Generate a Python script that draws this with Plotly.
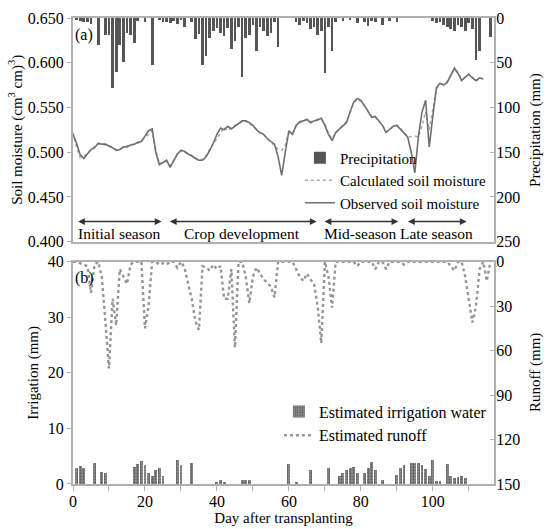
import plotly.graph_objects as go

# ---------------- data ----------------
days = list(range(117))
precipitation = [
    0, 2, 3, 5, 5, 7, 0, 30, 0, 19,
    19, 78, 60, 30, 49, 17, 19, 28, 3, 0,
    4, 0, 53, 0, 2, 5, 4, 6, 3, 7,
    2, 10, 0, 4, 24, 18, 53, 43, 22, 15,
    11, 17, 20, 11, 35, 26, 10, 66, 22, 19,
    8, 37, 10, 15, 20, 17, 5, 32, 0, 0,
    0, 0, 4, 8, 3, 6, 12, 10, 19, 15,
    62, 10, 37, 5, 0, 3, 0, 2, 0, 6,
    0, 4, 9, 3, 5, 0, 8, 0, 3, 0,
    4, 0, 0, 0, 0, 0, 0, 0, 0, 0,
    3, 6, 4, 8, 10, 12, 15, 8, 10, 14,
    6, 12, 47, 37, 0, 0, 21,
]

sm_days = list(range(115))
observed = [
    0.520, 0.510, 0.497, 0.493, 0.498, 0.503, 0.505, 0.510, 0.509, 0.509,
    0.507, 0.505, 0.502, 0.503, 0.506, 0.506, 0.508, 0.509, 0.511, 0.512,
    0.518, 0.524, 0.526, 0.500, 0.486, 0.489, 0.491, 0.483, 0.490, 0.498,
    0.502, 0.501, 0.498, 0.496, 0.493, 0.491, 0.491, 0.495, 0.502, 0.510,
    0.520, 0.527, 0.525, 0.529, 0.526, 0.529, 0.532, 0.535, 0.535, 0.533,
    0.530, 0.525, 0.522, 0.520, 0.515, 0.512, 0.509, 0.495, 0.474, 0.500,
    0.524, 0.520, 0.530, 0.534, 0.535, 0.537, 0.533, 0.535, 0.536, 0.538,
    0.530, 0.520, 0.513, 0.522, 0.526, 0.530, 0.533, 0.545, 0.556, 0.560,
    0.558, 0.552, 0.545, 0.539, 0.540, 0.535, 0.530, 0.522, 0.526, 0.529,
    0.530, 0.526, 0.522, 0.517, 0.500, 0.477, 0.518, 0.545, 0.558, 0.506,
    0.540, 0.572, 0.577, 0.575, 0.578, 0.587, 0.594, 0.588, 0.580, 0.584,
    0.587, 0.583, 0.580, 0.583, 0.582,
]
calculated = [
    0.522, 0.505, 0.494, 0.495, 0.499, 0.503, 0.506, 0.509, 0.509, 0.508,
    0.507, 0.505, 0.503, 0.503, 0.505, 0.507, 0.508, 0.509, 0.510, 0.513,
    0.516, 0.520, 0.524, 0.502, 0.487, 0.489, 0.490, 0.485, 0.491, 0.498,
    0.502, 0.500, 0.498, 0.496, 0.494, 0.491, 0.492, 0.496, 0.503, 0.510,
    0.515, 0.522, 0.528, 0.524, 0.528, 0.530, 0.532, 0.534, 0.535, 0.532,
    0.530, 0.526, 0.521, 0.519, 0.516, 0.511, 0.508, 0.503, 0.502, 0.508,
    0.522, 0.521, 0.529, 0.533, 0.535, 0.536, 0.534, 0.535, 0.537, 0.537,
    0.531, 0.521, 0.515, 0.521, 0.526, 0.530, 0.534, 0.544, 0.555, 0.559,
    0.557, 0.552, 0.546, 0.540, 0.539, 0.535, 0.530, 0.523, 0.525, 0.529,
    0.530, 0.527, 0.521, 0.518, 0.517, 0.518, 0.517, 0.530, 0.545, 0.525,
    0.548, 0.571, 0.576, 0.576, 0.579, 0.586, 0.593, 0.589, 0.581, 0.583,
    0.587, 0.584, 0.580, 0.582, 0.582,
]

runoff = [
    0, 0, 1, 2, 3, 21, 2, 0, 10, 40,
    72, 25, 43, 5, 10, 15, 2, 0, 0, 0,
    45, 30, 0, 0, 2, 1, 2, 0, 0, 4,
    0, 4, 15, 25, 40, 46, 3, 4, 6, 2,
    5, 3, 25, 25, 5, 58, 0, 0, 10, 28,
    10, 4, 8, 12, 14, 17, 24, 0, 0, 0,
    0, 0, 5, 10, 13, 8, 12, 15, 30, 55,
    0, 10, 31, 0, 0, 0, 0, 0, 0, 3,
    0, 0, 0, 0, 5, 0, 0, 5, 0, 0,
    0, 0, 2, 0, 0, 0, 0, 0, 0, 0,
    0, 0, 0, 0, 0, 3, 6, 0, 0, 10,
    25, 41, 30, 5, 0, 13, 0,
]

irr_days = [1, 2, 3, 6, 8, 9, 17, 18, 19, 20, 21, 22, 23, 24, 25, 29, 30, 33,
            40, 41, 42, 47, 48, 49, 60, 62, 66, 71, 74, 75, 76, 77, 78, 79,
            81, 82, 83, 84, 86, 90, 91, 92, 94, 95, 96, 97, 98, 99, 100, 101,
            102, 104, 105, 106, 107, 108, 109]
irrigation = [3.0, 3.3, 3.0, 3.9, 2.3, 2.0, 3.2, 3.6, 4.2, 3.5, 2.0, 1.5, 2.5, 2.9, 1.5, 4.3, 3.5, 3.9,
              0.5, 0.7, 0.5, 0.8, 0.8, 0.7, 3.7, 0.5, 2.5, 2.9, 1.5, 2.0, 2.5, 3.0, 3.2, 2.0,
              2.0, 3.0, 4.0, 2.5, 0.8, 1.7, 3.0, 3.5, 3.8, 3.9, 3.9, 3.5, 2.8, 1.5, 4.3, 0.6,
              0.6, 3.7, 1.5, 1.2, 1.3, 1.5, 1.2]

season_names = ["Initial season", "Crop development", "Mid-season", "Late season"]
season_start = [1.0, 26.5, 69.5, 92.7]
season_end = [24.6, 67.7, 90.4, 109.4]

# ---------------- figure ----------------
FONT = "Liberation Serif"
AX = "#b0b0b0"
FS = 16

fig = go.Figure()

fig.add_trace(go.Bar(
    x=days, y=precipitation, name="Precipitation", xaxis="x", yaxis="y2",
    marker=dict(color="#555555", line=dict(width=0)), width=0.75,
    legend="legend", legendrank=1,
))
fig.add_trace(go.Scatter(
    x=sm_days, y=calculated, name="Calculated soil moisture", mode="lines",
    xaxis="x", yaxis="y", line=dict(color="#a8a8a8", width=1.6, dash="dot"),
    legend="legend", legendrank=2,
))
fig.add_trace(go.Scatter(
    x=sm_days, y=observed, name="Observed soil moisture", mode="lines",
    xaxis="x", yaxis="y", line=dict(color="#707070", width=1.6),
    legend="legend", legendrank=3,
))

fig.add_trace(go.Bar(
    x=irr_days, y=irrigation, name="Estimated irrigation water", xaxis="x2", yaxis="y3",
    marker=dict(color="#8c8c8c", line=dict(width=0),
                pattern=dict(shape=".", fgcolor="#222222", bgcolor="#9a9a9a", size=3, solidity=0.5)),
    width=0.8, legend="legend2", legendrank=1,
))
fig.add_trace(go.Scatter(
    x=days, y=runoff, name="Estimated runoff", mode="lines",
    xaxis="x2", yaxis="y4", line=dict(color="#959595", width=2.4, dash="dot"),
    legend="legend2", legendrank=2,
))

annotations = []
for name, s, e in zip(season_names, season_start, season_end):
    annotations.append(dict(
        x=e, y=0.4225, ax=s, ay=0.4225, xref="x", yref="y", axref="x", ayref="y",
        text="", showarrow=True, arrowhead=2, arrowside="end+start",
        arrowsize=0.9, arrowwidth=1.5, arrowcolor="#333333",
    ))
    annotations.append(dict(
        x=(s + e) / 2, y=0.4095, xref="x", yref="y", text=name, showarrow=False,
        font=dict(family=FONT, size=15.5, color="black"),
    ))
annotations.append(dict(x=0.0, y=0.975, xref="x domain", yref="y domain", text="(a)",
                        showarrow=False, xanchor="left", yanchor="top",
                        font=dict(family=FONT, size=FS, color="black")))
annotations.append(dict(x=0.0, y=0.975, xref="x2 domain", yref="y3 domain", text="(b)",
                        showarrow=False, xanchor="left", yanchor="top",
                        font=dict(family=FONT, size=FS, color="black")))
# right-hand axis titles
annotations.append(dict(x=1.1, y=0.5, xref="paper", yref="y domain", text="Precipitation (mm)",
                        showarrow=False, textangle=-90, xanchor="center", yanchor="middle",
                        font=dict(family=FONT, size=15, color="black")))
annotations.append(dict(x=1.1, y=0.5, xref="paper", yref="y3 domain", text="Runoff (mm)",
                        showarrow=False, textangle=-90, xanchor="center", yanchor="middle",
                        font=dict(family=FONT, size=15, color="black")))

common_y = dict(showline=True, linecolor=AX, linewidth=2, showgrid=False, zeroline=False,
                ticklen=4, tickcolor=AX, automargin=False,
                tickfont=dict(family=FONT, size=FS, color="black"),
                title_font=dict(family=FONT, size=15, color="black"))

fig.update_layout(
    width=549, height=529,
    margin=dict(l=73, r=55, t=18, b=45),
    paper_bgcolor="white", plot_bgcolor="white",
    font=dict(family=FONT, size=FS, color="black"),
    barmode="overlay", bargap=0,
    xaxis=dict(domain=[0, 1], anchor="y", range=[0, 117], showline=True, mirror=True,
               linecolor=AX, linewidth=2, showgrid=False, zeroline=False,
               showticklabels=False, ticks="", automargin=False),
    yaxis=dict(domain=[0.52, 1], anchor="x", range=[0.4, 0.65],
               tickvals=[0.4, 0.45, 0.5, 0.55, 0.6, 0.65], tickformat=".3f", ticks="outside",
               title=dict(text="Soil moisture (cm<sup>3</sup> cm)<sup>3</sup>)", standoff=2),
               **common_y),
    yaxis2=dict(overlaying="y", side="right", anchor="x", range=[250, 0],
                tickvals=[0, 50, 100, 150, 200, 250], ticks="inside", ticklabelstandoff=-3,
                **common_y),
    xaxis2=dict(domain=[0, 1], anchor="y3", range=[0, 117], showline=True, mirror=True,
                linecolor=AX, linewidth=2, showgrid=False, zeroline=False, automargin=False,
                tickvals=list(range(0, 120, 10)),
                ticktext=[str(v) if v % 20 == 0 else "" for v in range(0, 120, 10)],
                ticks="outside", ticklen=5, tickcolor=AX, ticklabelstandoff=-3,
                tickfont=dict(family=FONT, size=FS, color="black"),
                title=dict(text="Day after transplanting", standoff=3,
                           font=dict(family=FONT, size=15, color="black"))),
    yaxis3=dict(domain=[0, 0.477], anchor="x2", range=[0, 40],
                tickvals=[0, 10, 20, 30, 40], ticks="outside",
                title=dict(text="Irrigation (mm)", standoff=6), **common_y),
    yaxis4=dict(overlaying="y3", side="right", anchor="x2", range=[150, 0],
                tickvals=[0, 30, 60, 90, 120, 150], ticks="inside", ticklabelstandoff=-3,
                **common_y),
    legend=dict(x=0.995, y=0.735, xanchor="right", yanchor="top",
                bgcolor="rgba(0,0,0,0)", font=dict(family=FONT, size=15, color="black"),
                tracegroupgap=0, itemwidth=30),
    legend2=dict(x=0.995, y=0.192, xanchor="right", yanchor="top",
                 bgcolor="rgba(0,0,0,0)", font=dict(family=FONT, size=FS, color="black"),
                 tracegroupgap=0, itemwidth=30),
    annotations=annotations,
)

fig.write_html("out.html", config={"displayModeBar": False},
               post_script="document.body.style.margin='0';document.body.style.padding='0';")
